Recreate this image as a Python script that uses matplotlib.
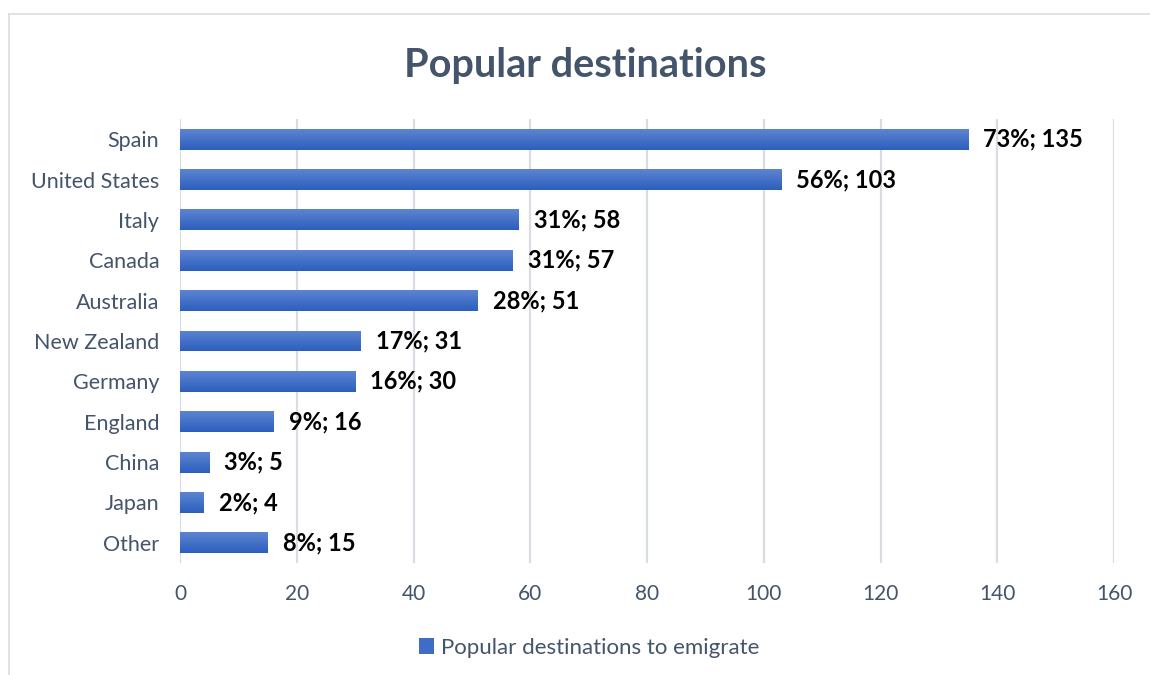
import numpy as np
import matplotlib
matplotlib.use("Agg")
import matplotlib.pyplot as plt
from matplotlib.colors import LinearSegmentedColormap
from matplotlib.patches import Rectangle
from matplotlib.lines import Line2D

categories = ["Spain", "United States", "Italy", "Canada", "Australia",
              "New Zealand", "Germany", "England", "China", "Japan", "Other"]
counts = [135, 103, 58, 57, 51, 31, 30, 16, 5, 4, 15]
percents = [73, 56, 31, 31, 28, 17, 16, 9, 3, 2, 8]
x_ticks = [0, 20, 40, 60, 80, 100, 120, 140, 160]
series_name = "Popular destinations to emigrate"
title = "Popular destinations"

plt.rcParams["font.family"] = ["Lato", "DejaVu Sans"]
text_color = "#44546a"
grid_color = "#d9dde3"

fig = plt.figure(figsize=(11.5, 6.75), dpi=100)
ax = fig.add_axes([180 / 1150, 1 - 563 / 675, (1114 - 180) / 1150, (563 - 119) / 675])

y = np.arange(len(categories))
bars = ax.barh(y, counts, height=0.52, color="none", edgecolor="none", zorder=3)

# vertical gradient fill, lighter at the top of each bar
cmap = LinearSegmentedColormap.from_list("barfill", ["#2c5fbd", "#5d84d2"])
grad = np.linspace(0, 1, 64).reshape(-1, 1)
for bar in bars:
    x0, y0 = bar.get_x(), bar.get_y()
    w, h = bar.get_width(), bar.get_height()
    im = ax.imshow(grad, cmap=cmap, aspect="auto", zorder=3,
                   extent=(x0, x0 + w, y0, y0 + h), origin="upper",
                   interpolation="bilinear")
    im.set_clip_path(bar)
ax.set_xlim(0, 160)
ax.set_ylim(len(categories) - 0.5, -0.5)

for yi, c, p in zip(y, counts, percents):
    ax.text(c + 2.6, yi, f"{p}%; {c}", va="center", ha="left",
            fontsize=17, fontweight="bold", color="black", zorder=4)

ax.set_yticks(y)
ax.set_yticklabels(categories, fontsize=15.5, color=text_color)
ax.set_xticks(x_ticks)
ax.set_xticklabels([str(t) for t in x_ticks], fontsize=15, color=text_color)
ax.tick_params(axis="both", length=0)
ax.tick_params(axis="y", pad=15)
ax.tick_params(axis="x", pad=15)
ax.grid(axis="x", color=grid_color, linewidth=1.6, zorder=0)
ax.set_axisbelow(True)
for s in ax.spines.values():
    s.set_visible(False)

fig.text(0.509, 1 - 65 / 675, title, ha="center", va="center",
         fontsize=28.5, fontweight="bold", color=text_color)

# chart-area border (top and left edges)
fig.add_artist(Line2D([9 / 1150, 1.0], [1 - 14 / 675, 1 - 14 / 675],
                      transform=fig.transFigure, color=grid_color, linewidth=1.2))
fig.add_artist(Line2D([9 / 1150, 9 / 1150], [0, 1 - 14 / 675],
                      transform=fig.transFigure, color=grid_color, linewidth=1.2))

# legend
handle = Rectangle((0, 0), 1, 1, facecolor="#3f6cc6", edgecolor="none")
fig.legend([handle], [series_name], loc="center", bbox_to_anchor=(0.512, 1 - 648 / 675),
           frameon=False, fontsize=16, labelcolor=text_color, handlelength=0.7,
           handleheight=0.7, handletextpad=0.3)

fig.savefig("out.png", dpi=100, facecolor="white")
